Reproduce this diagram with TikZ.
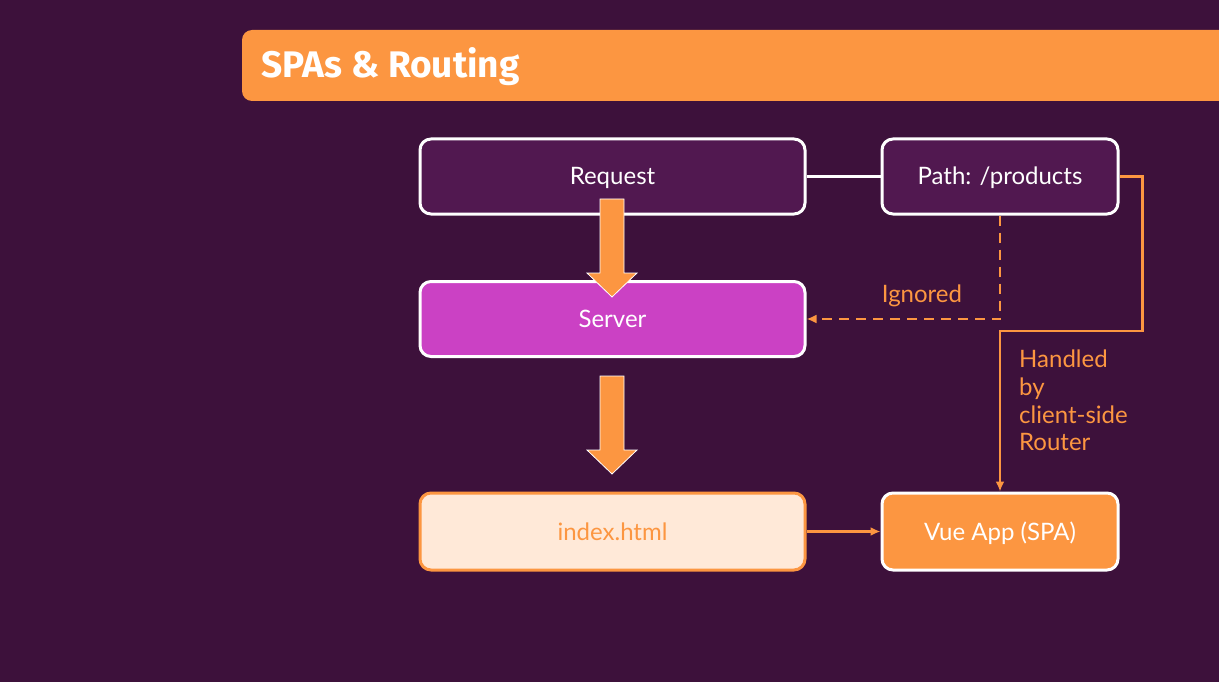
\documentclass[tikz,border=0pt]{standalone}
\usepackage{fontspec}
\setmainfont{Lato}
\newfontfamily\titlefont{Fira Sans}
\usetikzlibrary{arrows.meta}

\definecolor{slidebg}{RGB}{61,17,59}
\definecolor{boxpurple}{RGB}{81,24,80}
\definecolor{boxmagenta}{RGB}{203,65,196}
\definecolor{vueorange}{RGB}{252,150,65}
\definecolor{boxcream}{RGB}{255,233,216}

\tikzset{
  stepbox/.style={draw=white, line width=3pt, rounded corners=11pt,
    minimum height=75pt, text=white, text height=20pt, text depth=3pt,
    font=\fontsize{24}{28}\selectfont},
  widebox/.style={stepbox, minimum width=385pt},
  slimbox/.style={stepbox, minimum width=236pt},
  orangeline/.style={draw=vueorange, line width=2.5pt},
  orangelabel/.style={text=vueorange, font=\fontsize{24}{27.7}\selectfont},
  tip/.style={-{Latex[length=10pt,width=9pt]}}
}

\begin{document}
\begin{tikzpicture}[x=1pt, y=-1pt] % Pixelraster der Folie

  \useasboundingbox (0,0) rectangle (1219,682);
  \fill[slidebg] (0,0) rectangle (1219,682);

  % Titelleiste
  \fill[vueorange, rounded corners=10pt] (242,30) rectangle (1240,101);
  \node[anchor=base west, text=white, font=\titlefont\bfseries\fontsize{37}{40}\selectfont]
    (title) at (258,78) {SPAs \& Routing};

  % Kaesten
  \node[widebox, fill=boxpurple] (req) at (612.5,176.5) {Request};
  \node[slimbox, fill=boxpurple] (path) at (1000,176.5) {Path: /products};
  \node[widebox, fill=boxmagenta] (server) at (612.5,319) {Server};
  \node[widebox, fill=boxcream, draw=vueorange, text=vueorange, minimum height=77pt]
    (index) at (612.5,531.5) {index.html};
  \node[slimbox, fill=vueorange, minimum height=77pt] (vue) at (1000,531.5) {Vue App (SPA)};

  % Dicke Pfeile nach unten
  \foreach \top/\tipy in {199/297, 376/474} {
    \filldraw[fill=vueorange, draw=white, line width=0.8pt]
      (600,\top) -- (624,\top) -- (624,\tipy-24) -- (637,\tipy-24) -- (612,\tipy)
      -- (587,\tipy-24) -- (600,\tipy-24) -- cycle;
  }

  % Verbindungen
  \draw[white, line width=2.5pt] (req.east) -- (path.west);
  \draw[orangeline, tip, dashed, dash pattern=on 10pt off 7pt] (path.south) |- (server.east);
  \draw[orangeline, tip] (path.east) -- ++(23,0) -- ++(0,154.5) -| (vue.north);
  \draw[orangeline, tip] (index.east) -- (vue.west);

  % Beschriftungen
  \node[orangelabel] (ignored) at (922,296) {Ignored};
  \node[orangelabel, anchor=north west, align=left, inner sep=0pt]
    (handled) at (1019,350) {Handled\\by\\client-side\\Router};

\end{tikzpicture}
\end{document}
